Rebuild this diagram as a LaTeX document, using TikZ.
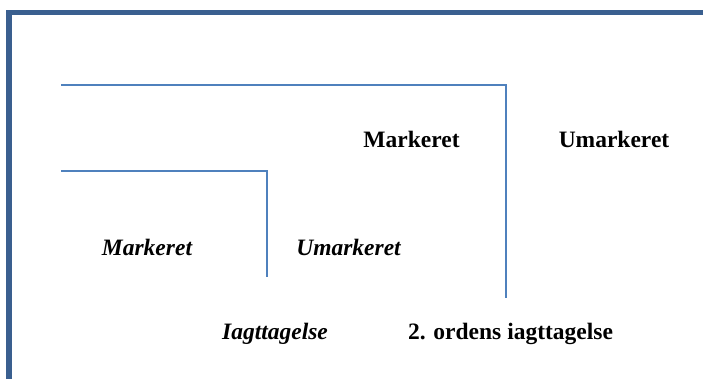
\documentclass[tikz,border=0pt]{standalone}
\usepackage{fontspec}
\setmainfont{Liberation Serif}
\definecolor{framecol}{HTML}{3A5F8F}
\definecolor{linecol}{HTML}{4F81BD}
\begin{document}
\begin{tikzpicture}[x=1pt,y=-1pt,
  lbl/.style={anchor=base,inner sep=0pt,font=\fontsize{23.5}{28}\selectfont\bfseries},
  ilbl/.style={lbl,font=\fontsize{23.5}{28}\selectfont\bfseries\itshape},
  bracket/.style={draw=linecol,line width=2pt}]
\useasboundingbox (0,0) rectangle (703,379);
\fill[framecol] (6,10) rectangle (703,15);
\fill[framecol] (6,10) rectangle (12,379);
\coordinate (a1) at (61,85);
\coordinate (a2) at (505.5,85);
\coordinate (a3) at (505.5,298);
\coordinate (b1) at (61,171.5);
\coordinate (b2) at (267,171.5);
\coordinate (b3) at (267,277);
\draw[bracket] (a1) -- (a2) -- (a3);
\draw[bracket] (b1) -- (b2) -- (b3);
\node[lbl] (m1) at (411.5,148) {Markeret};
\node[lbl] (u1) at (614,148) {Umarkeret};
\node[ilbl] (m2) at (147,255) {Markeret};
\node[ilbl] (u2) at (348.5,255) {Umarkeret};
\node[ilbl] (ia) at (275,339) {Iagttagelse};
\node[lbl] (io) at (510.5,339) {2. ordens iagttagelse};
\end{tikzpicture}
\end{document}
